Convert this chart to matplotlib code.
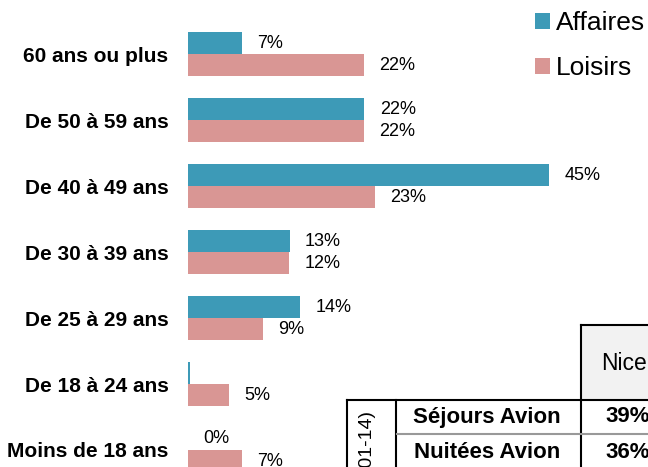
import matplotlib
matplotlib.use("Agg")
import matplotlib.pyplot as plt
from matplotlib.lines import Line2D
from matplotlib.patches import Rectangle

# Données
categories = ["60 ans ou plus", "De 50 à 59 ans", "De 40 à 49 ans", "De 30 à 39 ans",
              "De 25 à 29 ans", "De 18 à 24 ans", "Moins de 18 ans"]
affaires = [6.7, 22.0, 45.0, 12.7, 14.0, 0.2, 0]
affaires_labels = ["7%", "22%", "45%", "13%", "14%", "", "0%"]
loisirs = [21.9, 21.9, 23.3, 12.6, 9.3, 5.1, 6.7]
loisirs_labels = ["22%", "22%", "23%", "12%", "9%", "5%", "7%"]

table_rows = ["Séjours Avion", "Nuitées Avion"]
table_col = "Nice"
table_vals = ["39%", "36%"]
table_side = "(2001-14)"

bleu = "#3d9ab7"
rose = "#d99694"
W, H = 648, 467

plt.rcParams["font.family"] = ["Liberation Sans", "DejaVu Sans"]

fig = plt.figure(figsize=(W / 100, H / 100), dpi=100)
ax = fig.add_axes([188 / W, 0, (W - 188) / W, 1])

h = 1 / 3
y = list(range(len(categories)))
ax.barh([i - h / 2 for i in y], affaires, height=h, color=bleu, label="Affaires")
ax.barh([i + h / 2 for i in y], loisirs, height=h, color=rose, label="Loisirs")

for i in y:
    ax.text(affaires[i] + 1.9, i - h / 2, affaires_labels[i], va="center", ha="left", fontsize=13)
    ax.text(loisirs[i] + 1.9, i + h / 2, loisirs_labels[i], va="center", ha="left", fontsize=13)

ax.set_xlim(0, (W - 188) / 8.02)
ax.set_ylim((H - 54) / 66, -54 / 66)
ax.set_yticks(y)
ax.set_yticklabels(categories, fontsize=15, fontweight="bold")
ax.tick_params(axis="y", length=0, pad=14)
ax.set_xticks([])
for s in ax.spines.values():
    s.set_visible(False)
ax.patch.set_alpha(0)

fig.legend(loc="upper left", bbox_to_anchor=(535 / W, 1 - 11 / H), frameon=False,
           fontsize=19, handlelength=0.57, handleheight=0.57, handletextpad=0.22,
           labelspacing=0.8, borderpad=0, borderaxespad=0)


# Tableau (coin bas droit, coordonnées en pixels)
def px(x, yy):
    return x / W, 1 - yy / H


def trait(x0, y0, x1, y1, color="black", lw=1.5):
    (a, b), (c, d) = px(x0, y0), px(x1, y1)
    fig.add_artist(Line2D([a, c], [b, d], color=color, lw=lw))


x0, y0 = px(581, 400)
fig.add_artist(Rectangle((x0, y0), (W - 581) / W, 75 / H, facecolor="#f2f2f2",
                         edgecolor="none", transform=fig.transFigure))
trait(581, 325, W, 325)
trait(581, 325, 581, H)
trait(347, 400, W, 400)
trait(347, 400, 347, H)
trait(396, 400, 396, H)
trait(397, 434, W, 434, color="#999999")

fig.text(*px(601, 363), table_col, ha="left", va="center", fontsize=16.5)
for k, (lab, val) in enumerate(zip(table_rows, table_vals)):
    fig.text(*px(487, 417 + 35 * k), lab, ha="center", va="center", fontsize=16, fontweight="bold")
    fig.text(*px(605, 417 + 35 * k), val, ha="left", va="center", fontsize=16, fontweight="bold")
fig.text(*px(366, 409), table_side, rotation=90, ha="center", va="top", fontsize=14)

fig.savefig("out.png", dpi=100)
